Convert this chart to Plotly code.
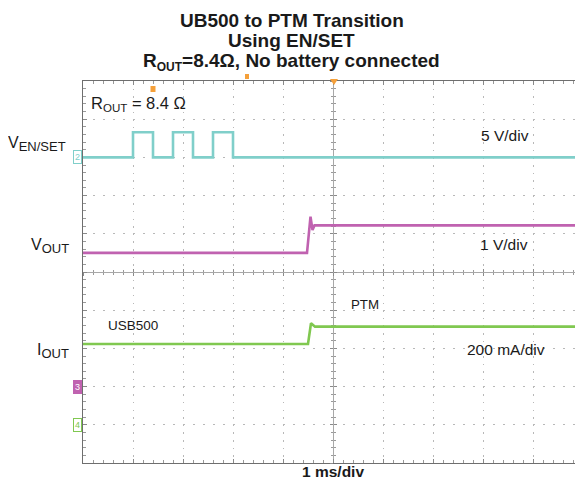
import plotly.graph_objects as go

# ---------------- data (read from the scope capture) ----------------
# time in ms, 1 ms/div, 10 divisions
en_time_ms = [0, 1.0, 1.0, 1.4, 1.4, 1.8, 1.8, 2.2, 2.2, 2.6, 2.6, 3.0, 3.0, 10]
en_volts = [0, 0, 3.3, 3.3, 0, 0, 3.3, 3.3, 0, 0, 3.3, 3.3, 0, 0]

vout_time_ms = [0, 4.48, 4.55, 4.59, 4.63, 10]
vout_volts = [3.5, 3.5, 4.45, 4.1, 4.22, 4.22]

iout_time_ms = [0, 4.50, 4.56, 4.64, 10]
iout_ma = [423, 423, 532, 514, 514]

# channel settings: scale per division and ground-marker offset (divisions)
en_scale, en_offset = 5.0, 3.0        # 5 V/div
vout_scale, vout_offset = 1.0, -3.0   # 1 V/div
iout_scale, iout_offset = 200.0, -4.0  # 200 mA/div

CYAN = "#80cfca"
MAGENTA = "#c062b0"
GREEN = "#80c850"
ORANGE = "#f5a03a"
FONT = "Liberation Sans, Arial, sans-serif"

# the page body adds an 8 px margin on every side
PAGE_OFF = 8
W, H = 583 - PAGE_OFF, 487 - 2 * PAGE_OFF
PLOT_L, PLOT_R, PLOT_T, PLOT_B = 83, 583, 81, 463   # screen pixels of the graticule
ML, MT = PLOT_L - PAGE_OFF, PLOT_T - PAGE_OFF
MR = W - (PLOT_R - PAGE_OFF)
MB = H - (PLOT_B - PAGE_OFF)


def px(pix):
    """screen column -> paper x"""
    return (pix - PLOT_L) / (PLOT_R - PLOT_L)


def py(pix):
    """screen row -> paper y"""
    return (PLOT_B - pix) / (PLOT_B - PLOT_T)


def to_div(vals, scale, offset):
    return [v / scale + offset for v in vals]


fig = go.Figure()

fig.add_trace(go.Scatter(x=en_time_ms, y=to_div(en_volts, en_scale, en_offset),
                         mode="lines", line=dict(color=CYAN, width=2.6), hoverinfo="skip"))
fig.add_trace(go.Scatter(x=vout_time_ms, y=to_div(vout_volts, vout_scale, vout_offset),
                         mode="lines", line=dict(color=MAGENTA, width=2.6), hoverinfo="skip"))
fig.add_trace(go.Scatter(x=iout_time_ms, y=to_div(iout_ma, iout_scale, iout_offset),
                         mode="lines", line=dict(color=GREEN, width=2.6), hoverinfo="skip"))

# invisible traces to create the centre cross-hair axes
fig.add_trace(go.Scatter(x=[None], y=[None], xaxis="x2", yaxis="y2", showlegend=False))
fig.add_trace(go.Scatter(x=[None], y=[None], xaxis="x3", yaxis="y3", showlegend=False))

base_ax = dict(showticklabels=False, zeroline=False, fixedrange=True, layer="below traces")

xaxis = dict(base_ax, range=[0, 10], dtick=1, tick0=0, showgrid=True, gridcolor="#b8b8b8",
             griddash="1.5px,6.14px", gridwidth=1, showline=True, linecolor="#6e6e6e", linewidth=1,
             mirror="allticks", ticks="inside", ticklen=4, tickcolor="#8a8a8a",
             minor=dict(dtick=0.2, ticks="inside", ticklen=3, tickcolor="#9a9a9a", showgrid=False))
yaxis = dict(base_ax, range=[-5, 5], dtick=1, tick0=0, showgrid=True, gridcolor="#b8b8b8",
             griddash="1.5px,8.5px", gridwidth=1, showline=True, linecolor="#6e6e6e", linewidth=1,
             mirror="allticks", ticks="inside", ticklen=4, tickcolor="#8a8a8a",
             minor=dict(dtick=0.2, ticks="inside", ticklen=3, tickcolor="#9a9a9a", showgrid=False))


def centre_x(ticks):
    return dict(base_ax, overlaying="x", anchor="free", position=0.5, range=[0, 10], dtick=1,
                tick0=0, showgrid=False, showline=True, linecolor="#a8a8a8", linewidth=1,
                ticks=ticks, ticklen=3, tickcolor="#8a8a8a",
                minor=dict(dtick=0.2, ticks=ticks, ticklen=2, tickcolor="#9a9a9a", showgrid=False))


def centre_y(ticks):
    return dict(base_ax, overlaying="y", anchor="free", position=0.5, range=[-5, 5], dtick=1,
                tick0=0, showgrid=False, showline=True, linecolor="#a8a8a8", linewidth=1,
                ticks=ticks, ticklen=3, tickcolor="#8a8a8a",
                minor=dict(dtick=0.2, ticks=ticks, ticklen=2, tickcolor="#9a9a9a", showgrid=False))


annotations = []


def label(text, x, y, size, bold=False, xanchor="center", color="#1a1a1a"):
    annotations.append(dict(text=f"<b>{text}</b>" if bold else text, x=x, y=y, xref="paper",
                            yref="paper", xanchor=xanchor, yanchor="middle", showarrow=False,
                            font=dict(family=FONT, size=size, color=color)))


TITLE_X = px(291.5)
label("UB500 to PTM Transition", TITLE_X, py(20), 19, bold=True)
label("Using EN/SET", TITLE_X, py(41), 19, bold=True)
label("R<sub><span style='font-size:12px'>OUT</span></sub>=8.4Ω, No battery connected",
      TITLE_X, py(62), 19, bold=True)

label("R<sub>OUT</sub> = 8.4 Ω", px(89), py(104), 16.5, xanchor="left")
label("V<sub><span style='font-size:13px'>EN/SET</span></sub>", px(68), py(144), 16, xanchor="right")
label("V<sub><span style='font-size:13px'>OUT</span></sub>", px(71), py(246), 16, xanchor="right")
label("I<sub><span style='font-size:13px'>OUT</span></sub>", px(71), py(351), 16, xanchor="right")
label("5 V/div", px(504.5), py(135), 15.5)
label("1 V/div", px(504), py(244), 15.5)
label("200 mA/div", px(506), py(349.5), 15.5)
label("PTM", px(365), py(304.5), 13.3)
label("USB500", px(133), py(325.5), 13.5)
label("1 ms/div", 0.5, py(471), 15.5, bold=True)

# channel ground markers on the left edge
for num, off, col, filled in [("2", en_offset, CYAN, False), ("3", vout_offset, MAGENTA, True),
                              ("4", iout_offset, GREEN, False)]:
    annotations.append(dict(text=num, x=0, y=off, xref="paper", yref="y", xanchor="right",
                            yanchor="middle", xshift=-1, showarrow=False,
                            font=dict(family=FONT, size=9, color="white" if filled else col),
                            bgcolor=col if filled else "white", bordercolor=col,
                            borderwidth=1, borderpad=1))

shapes = [
    # trigger position (top centre)
    dict(type="path", xref="paper", yref="paper",
         path=f"M {px(330)},{py(79)} L {px(338)},{py(79)} L {px(334)},{py(85)} Z",
         fillcolor=ORANGE, line=dict(width=0)),
    # small orange cursor markers
    dict(type="rect", xref="paper", yref="paper", x0=px(245), x1=px(249), y0=py(79), y1=py(74),
         fillcolor=ORANGE, line=dict(width=0)),
    dict(type="rect", xref="paper", yref="paper", x0=px(150.5), x1=px(155.5), y0=py(92), y1=py(86),
         fillcolor=ORANGE, line=dict(width=0)),
    # level marker on the right edge
    dict(type="path", xref="paper", yref="paper",
         path=f"M {px(583)},{py(140)} L {px(577)},{py(144)} L {px(583)},{py(148)} Z",
         fillcolor=CYAN, line=dict(width=0)),
]

fig.update_layout(
    width=W, height=H, margin=dict(l=ML, r=MR, t=MT, b=MB),
    paper_bgcolor="white", plot_bgcolor="white", showlegend=False,
    xaxis=xaxis, yaxis=yaxis,
    xaxis2=centre_x("outside"), yaxis2=centre_y("outside"),
    xaxis3=centre_x("inside"), yaxis3=centre_y("inside"),
    annotations=annotations, shapes=shapes,
    font=dict(family=FONT),
)

fig.write_html("out.html")
